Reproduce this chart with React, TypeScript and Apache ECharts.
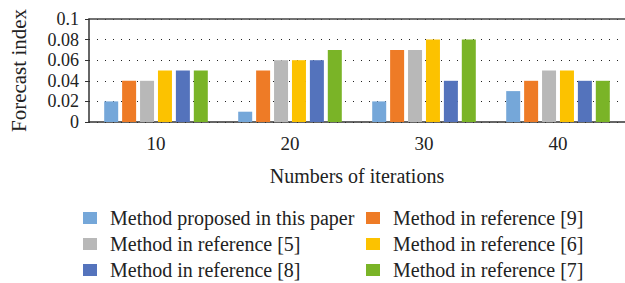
import React, { useEffect, useRef } from "react";
import * as echarts from "echarts";

const categories = ["10", "20", "30", "40"];
const seriesNames = [
  "Method proposed in this paper",
  "Method in reference [9]",
  "Method in reference [5]",
  "Method in reference [6]",
  "Method in reference [8]",
  "Method in reference [7]",
];
const proposed = [0.02, 0.01, 0.02, 0.03];
const ref9 = [0.04, 0.05, 0.07, 0.04];
const ref5 = [0.04, 0.06, 0.07, 0.05];
const ref6 = [0.05, 0.06, 0.08, 0.05];
const ref8 = [0.05, 0.06, 0.04, 0.04];
const ref7 = [0.05, 0.07, 0.08, 0.04];
const seriesValues = [proposed, ref9, ref5, ref6, ref8, ref7];
const colors = ["#75A7D9", "#EE7B26", "#B8B8B8", "#FCC200", "#5473BC", "#7AB427"];

const FONT = "Liberation Serif";

export default function App() {
  const ref = useRef<HTMLDivElement>(null);
  useEffect(() => {
    if (!ref.current) return;
    const chart = echarts.init(ref.current, undefined, { renderer: "svg" });
    const legendBase = {
      orient: "vertical" as const,
      itemWidth: 14,
      itemHeight: 12,
      itemGap: 6,
      padding: 0,
      height: 80,
      icon: "rect",
      textStyle: {
        fontFamily: FONT,
        fontSize: 20,
        color: "#222",
        lineHeight: 20,
        padding: [0, 0, 0, 8],
      },
    };
    chart.setOption({
      animation: false,
      color: colors,
      textStyle: { fontFamily: FONT },
      grid: { left: 88, top: 19, width: 539, height: 103 },
      legend: [
        { ...legendBase, left: 83, top: 208, width: 270, data: [seriesNames[0], seriesNames[2], seriesNames[4]] },
        { ...legendBase, left: 366, top: 208, width: 258, data: [seriesNames[1], seriesNames[3], seriesNames[5]] },
      ],
      xAxis: [
        {
          type: "category",
          data: categories,
          axisLine: { lineStyle: { color: "#333", width: 1.5 } },
          axisTick: { alignWithLabel: true, length: 5, lineStyle: { color: "#333", width: 1.5 } },
          axisLabel: { fontFamily: FONT, fontSize: 19, color: "#222", margin: 12 },
          name: "Numbers of iterations",
          nameLocation: "middle",
          nameGap: 44,
          nameTextStyle: { fontFamily: FONT, fontSize: 20, color: "#222" },
        },
        {
          type: "category",
          data: categories,
          position: "top",
          axisLine: { show: true, lineStyle: { color: "#444", width: 1.5 } },
          axisTick: { show: false },
          axisLabel: { show: false },
          splitLine: { show: false },
        },
      ],
      yAxis: {
        type: "value",
        min: 0,
        max: 0.1,
        interval: 0.02,
        axisLine: { show: true, lineStyle: { color: "#333", width: 1.5 } },
        axisTick: { show: true, length: 4, lineStyle: { color: "#333" } },
        axisLabel: { fontFamily: FONT, fontSize: 18, color: "#222", margin: 10 },
        splitLine: { lineStyle: { type: [1, 7], color: "#222", width: 1 } },
        name: "Forecast index",
        nameLocation: "middle",
        nameGap: 60,
        nameTextStyle: { fontFamily: FONT, fontSize: 21, color: "#222" },
      },
      series: seriesNames.map((name, i) => ({
        name,
        type: "bar",
        data: seriesValues[i],
        barWidth: 14,
        barGap: "28%",
        itemStyle: { color: colors[i] },
      })),
    });
    return () => chart.dispose();
  }, []);
  return (
    <div
      ref={ref}
      style={{ position: "fixed", left: 0, top: 0, width: 625, height: 283, background: "#fff" }}
    />
  );
}
